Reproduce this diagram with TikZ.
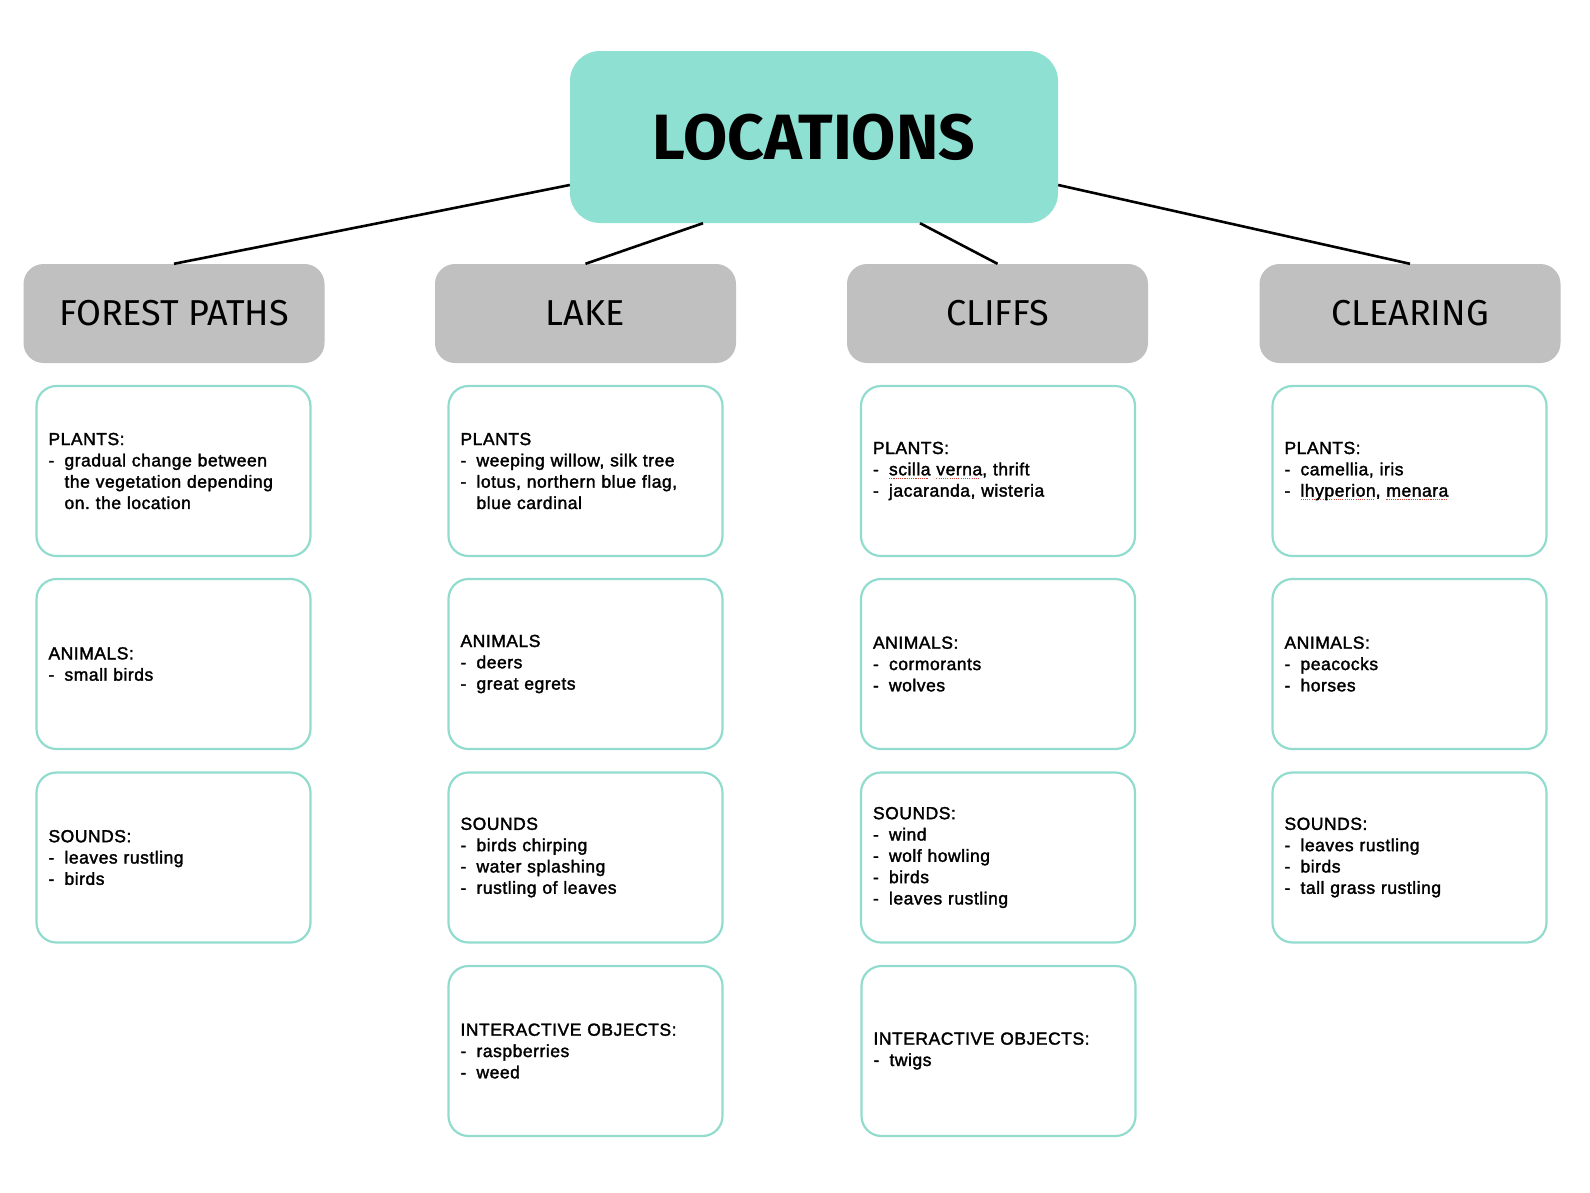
\documentclass[tikz,border=0pt]{standalone}
\usepackage{fontspec}
\usepackage{xcolor}
\setmainfont{Liberation Sans}[FakeBold=1.8, LetterSpace=3]
\newfontfamily\firafont{Fira Sans}
\definecolor{titlefill}{HTML}{8EE0D2}
\definecolor{headfill}{HTML}{C0C0C0}
\definecolor{boxline}{HTML}{92DCCF}
\definecolor{squigred}{HTML}{E0453A}
\newsavebox\squigbox
\newcommand\squig[1]{\sbox\squigbox{#1}\rlap{\textcolor{squigred}{\hbox to\wd\squigbox{\leaders\hbox{\rule[-3.6pt]{1.1pt}{1pt}\hspace{1.1pt}}\hfill}}}\usebox\squigbox}
\newcommand\itm{\makebox[16pt][l]{-}}
\newcommand\cnt{\hspace*{16pt}}
\begin{document}
\frenchspacing
\begin{tikzpicture}[x=1pt,y=-1pt,
  titlebox/.style={fill=titlefill, rounded corners=30pt, minimum width=488pt, minimum height=172pt, inner sep=0pt,
    font=\firafont\bfseries\fontsize{64}{70}\selectfont},
  headbox/.style={fill=headfill, rounded corners=20pt, minimum width=301pt, minimum height=99pt, inner sep=0pt,
    font=\firafont\fontsize{36}{40}\selectfont},
  infobox/.style={draw=boxline, line width=2.2pt, rounded corners=20pt, minimum width=274pt, minimum height=170pt,
    text width=250pt, inner xsep=12pt, inner ysep=0pt, align=left,
    font=\frenchspacing\fontsize{17.5}{21.3}\selectfont},
  link/.style={line width=2.6pt, black}]
\useasboundingbox (0,0) rectangle (1590,1192);
\fill[white] (0,0) rectangle (1590,1192);

\node[titlebox] (title) at (814,137) {LOCATIONS};

\node[headbox] (fp) at (174,313.5) {FOREST PATHS};
\node[headbox] (lake) at (585.5,313.5) {LAKE};
\node[headbox] (cliffs) at (997.5,313.5) {CLIFFS};
\node[headbox] (clear) at (1410,313.5) {CLEARING};

\draw[link] ([yshift=-48pt]title.west) -- (fp.north);
\draw[link] ([xshift=-111pt]title.south) -- (lake.north);
\draw[link] ([xshift=106pt]title.south) -- (cliffs.north);
\draw[link] ([yshift=-48pt]title.east) -- (clear.north);

% Forest paths
\node[infobox] (fp1) at (173.5,471) {PLANTS:\\\itm gradual change between\\\cnt the vegetation depending\\\cnt on. the location};
\node[infobox] (fp2) at (173.5,664) {ANIMALS:\\\itm small birds};
\node[infobox] (fp3) at (173.5,857.5) {SOUNDS:\\\itm leaves rustling\\\itm birds};

% Lake
\node[infobox] (lk1) at (585.5,471) {PLANTS\\\itm weeping willow, silk tree\\\itm lotus, northern blue flag,\\\cnt blue cardinal};
\node[infobox] (lk2) at (585.5,664) {ANIMALS\\\itm deers\\\itm great egrets};
\node[infobox] (lk3) at (585.5,857.5) {SOUNDS\\\itm birds chirping\\\itm water splashing\\\itm rustling of leaves};
\node[infobox] (lk4) at (585.5,1051) {INTERACTIVE OBJECTS:\\\itm raspberries\\\itm weed};

% Cliffs
\node[infobox] (cl1) at (998,471) {PLANTS:\\\itm \squig{scilla} \squig{verna}, thrift\\\itm jacaranda, wisteria};
\node[infobox] (cl2) at (998,664) {ANIMALS:\\\itm cormorants\\\itm wolves};
\node[infobox] (cl3) at (998,857.5) {SOUNDS:\\\itm wind\\\itm wolf howling\\\itm birds\\\itm leaves rustling};
\node[infobox] (cl4) at (998.5,1051) {INTERACTIVE OBJECTS:\\\itm twigs};

% Clearing
\node[infobox] (cr1) at (1409.5,471) {PLANTS:\\\itm camellia, iris\\\itm \squig{lhyperion}, \squig{menara}};
\node[infobox] (cr2) at (1409.5,664) {ANIMALS:\\\itm peacocks\\\itm horses};
\node[infobox] (cr3) at (1409.5,857.5) {SOUNDS:\\\itm leaves rustling\\\itm birds\\\itm tall grass rustling};
\end{tikzpicture}
\end{document}
